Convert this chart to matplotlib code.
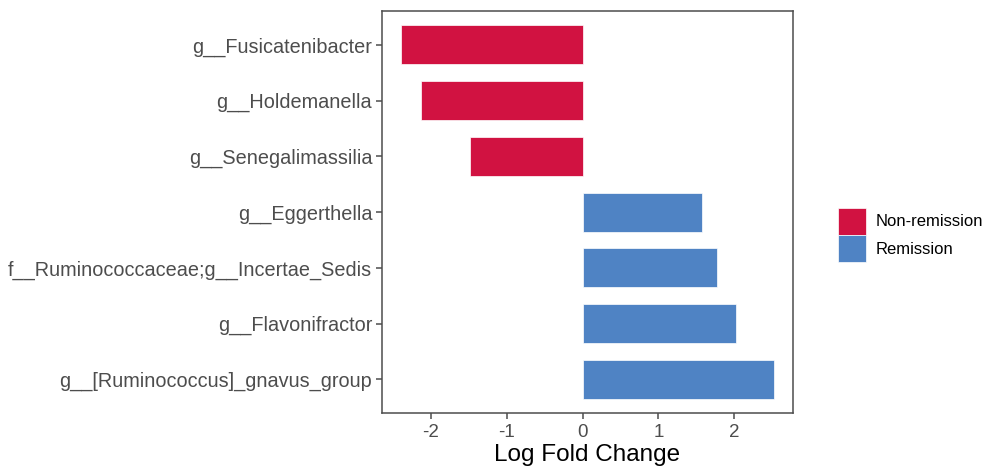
import matplotlib
matplotlib.use("Agg")
import matplotlib.pyplot as plt
from matplotlib.patches import Patch

plt.rcParams['font.family'] = ['Liberation Sans', 'DejaVu Sans']

taxa = ['g__Fusicatenibacter', 'g__Holdemanella', 'g__Senegalimassilia',
        'g__Eggerthella', 'f__Ruminococcaceae;g__Incertae_Sedis',
        'g__Flavonifractor', 'g__[Ruminococcus]_gnavus_group']
lfc = [-2.40, -2.13, -1.49, 1.58, 1.77, 2.03, 2.53]
groups = ['Non-remission', 'Non-remission', 'Non-remission',
          'Remission', 'Remission', 'Remission', 'Remission']

group_names = ['Non-remission', 'Remission']
group_colors = {'Non-remission': '#D11241', 'Remission': '#4F83C4'}

fig = plt.figure(figsize=(9.87, 4.73), dpi=100)
ax = fig.add_axes([0.387, 0.127, 0.4165, 0.849])

ypos = list(range(len(taxa)))[::-1]
cols = [group_colors[g] for g in groups]
ax.barh(ypos, lfc, height=0.7, color=cols, edgecolor='white', linewidth=0.5)

ax.set_yticks(ypos)
ax.set_yticklabels(taxa)
ax.set_ylim(-0.6, len(taxa) - 0.4)
rng = max(lfc) - min(lfc)
ax.set_xlim(min(lfc) - 0.05 * rng, max(lfc) + 0.05 * rng)
ax.set_xticks([-2, -1, 0, 1, 2])
ax.set_xticklabels(['-2', '-1', '0', '1', '2'])

ax.tick_params(axis='both', colors='#4D4D4D', length=4, width=1.1)
ax.tick_params(axis='y', labelsize=14.3, labelcolor='#4D4D4D', pad=3)
ax.tick_params(axis='x', labelsize=13.5, labelcolor='#4D4D4D', pad=4)
for s in ax.spines.values():
    s.set_color('#4D4D4D')
    s.set_linewidth(1.1)

ax.set_xlabel('Log Fold Change', fontsize=17.5, color='black', labelpad=2)

handles = [Patch(facecolor=group_colors[g], edgecolor='white', linewidth=0.5, label=g)
           for g in group_names]
fig.legend(handles=handles, loc='center left', bbox_to_anchor=(0.842, 0.503),
           frameon=False, fontsize=12, handlelength=1.7, handleheight=2.1,
           handletextpad=0.6, labelspacing=0.05, borderaxespad=0)

fig.savefig('out.png', dpi=100)
